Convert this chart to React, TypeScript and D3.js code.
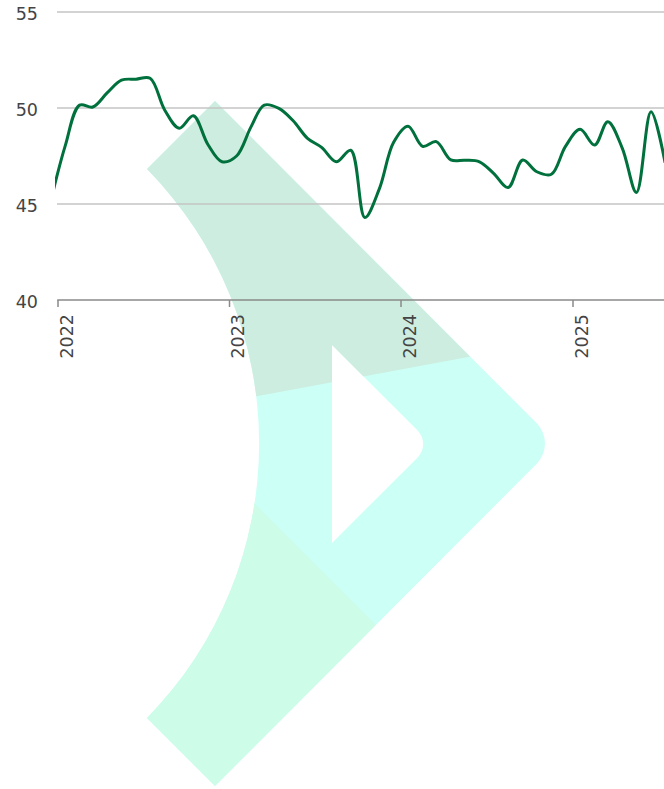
import React from 'react';
import * as d3 from 'd3';

// Monthly observations (plotted mid-month)
const months = [
  '2021-12', '2022-01', '2022-02', '2022-03', '2022-04', '2022-05', '2022-06', '2022-07', '2022-08', '2022-09', '2022-10', '2022-11', '2022-12',
  '2023-01', '2023-02', '2023-03', '2023-04', '2023-05', '2023-06', '2023-07', '2023-08', '2023-09', '2023-10', '2023-11', '2023-12',
  '2024-01', '2024-02', '2024-03', '2024-04', '2024-05', '2024-06', '2024-07', '2024-08', '2024-09', '2024-10', '2024-11', '2024-12',
  '2025-01', '2025-02', '2025-03', '2025-04', '2025-05', '2025-06', '2025-07',
];
const values = [
  45.1, 48.0, 50.15, 50.05, 50.8, 51.45, 51.5, 51.55, 49.9, 48.95, 49.6, 48.1, 47.2,
  47.5, 49.03, 50.15, 49.98, 49.35, 48.42, 47.95, 47.2, 47.8, 44.3, 45.8, 48.2,
  49.05, 48.0, 48.25, 47.3, 47.28, 47.2, 46.6, 45.86, 47.29, 46.68, 46.55, 48.0,
  48.89, 48.07, 49.29, 47.9, 45.6, 49.8, 47.15,
];
const yTickValues = [40, 45, 50, 55];
const gridValues = [45, 50, 55];
const yearLabels = ['2022', '2023', '2024', '2025'];

const W = 664;
const H = 789;
const LEFT = 58;
const RIGHT = 664;
const FONT = '"DejaVu Sans", sans-serif';

export default function App() {
  const x = d3
    .scaleTime()
    .domain([new Date(2022, 0, 1), new Date(2025, 0, 1)])
    .range([LEFT, 573]);
  const y = d3.scaleLinear().domain([40, 55]).range([300, 12]);

  const pts: [number, number][] = months.map((m, i) => {
    const [yy, mm] = m.split('-').map(Number);
    return [x(new Date(yy, mm - 1, 16)), y(values[i])];
  });
  const lineGen = d3.line().curve(d3.curveCatmullRom.alpha(0.5));
  const linePath = lineGen(pts) || '';

  // watermark logo geometry
  const logoOuter =
    'M147,169 L215,101 L536.5,423 A29,29 0 0 1 536.5,464 L215,786 L147,718 A392.1,392.1 0 0 0 147,169 Z';
  const logoHole = 'M332,345 L417.6,430.6 A19,19 0 0 1 417.6,457.4 L332,543 Z';
  const L1a = [258, 396];
  const L1b = [468, 357];
  const s1 = (L1b[1] - L1a[1]) / (L1b[0] - L1a[0]);
  const topPoly = `M100,0 L620,0 L620,${L1a[1] + (620 - L1a[0]) * s1} L100,${L1a[1] + (100 - L1a[0]) * s1} Z`;
  const botPoly = `M100,${100 + 249} L620,${620 + 249} L100,${620 + 249} Z`;

  return (
    <svg
      width={W}
      height={H}
      viewBox={`0 0 ${W} ${H}`}
      style={{ position: 'absolute', left: 0, top: 0, display: 'block', background: '#fff' }}
    >
      <defs>
        <clipPath id="logoClip">
          <path d={logoOuter + ' ' + logoHole} clipRule="evenodd" />
        </clipPath>
        <clipPath id="plotClip">
          <rect x={55} y={0} width={RIGHT - 55} height={H} />
        </clipPath>
      </defs>

      {/* watermark */}
      <g clipPath="url(#logoClip)">
        <rect x={100} y={0} width={520} height={H} fill="#ccfff5" />
        <path d={topPoly} fill="#cdede0" />
        <path d={botPoly} fill="#cdfce9" />
      </g>

      {/* gridlines */}
      {gridValues.map((v) => (
        <line key={v} x1={LEFT - 1} x2={RIGHT} y1={y(v)} y2={y(v)} stroke="#c4c4c4" strokeWidth={1.5} />
      ))}

      {/* x axis */}
      <line x1={LEFT - 0.75} x2={RIGHT} y1={y(40)} y2={y(40)} stroke="#8a8a8a" strokeWidth={1.5} />
      {yearLabels.map((yr) => {
        const xx = x(new Date(Number(yr), 0, 1));
        return (
          <g key={yr}>
            <line x1={xx} x2={xx} y1={y(40)} y2={y(40) + 7} stroke="#8a8a8a" strokeWidth={1.5} />
            <text
              transform={`translate(${xx + 14.5},314) rotate(-90)`}
              textAnchor="end"
              fontFamily={FONT}
              fontSize={17.5}
              fill="#444"
            >
              {yr}
            </text>
          </g>
        );
      })}

      {/* y labels */}
      {yTickValues.map((v) => (
        <text
          key={v}
          x={38}
          y={y(v) + 1.5}
          textAnchor="end"
          dominantBaseline="central"
          fontFamily={FONT}
          fontSize={17.5}
          fill="#444"
        >
          {v}
        </text>
      ))}

      {/* line */}
      <g clipPath="url(#plotClip)">
        <path d={linePath} fill="none" stroke="#00703c" strokeWidth={3} strokeLinejoin="round" />
      </g>
    </svg>
  );
}
